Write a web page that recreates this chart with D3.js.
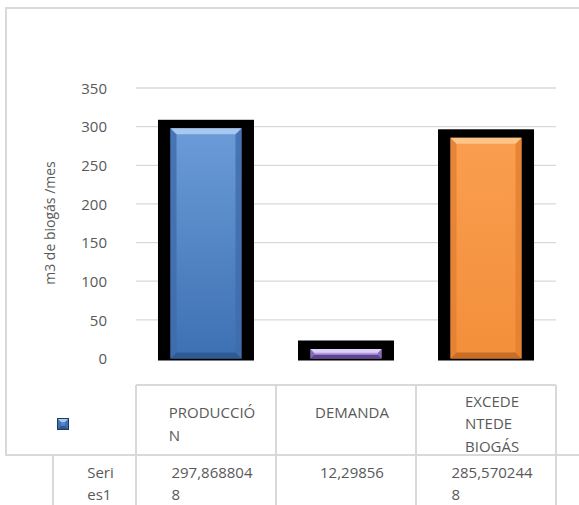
<!DOCTYPE html>
<html><head><meta charset="utf-8">
<script src="https://cdn.jsdelivr.net/npm/d3@7"></script>
<style>body{margin:0;background:#fff}svg{display:block}text{font-family:"Open Sans",sans-serif;fill:#595959}</style>
</head><body>
<svg id="c" width="579" height="505"></svg>
<script>
const categories = ["PRODUCCIÓN", "DEMANDA", "EXCEDENTE DE BIOGÁS"];
const headerLines = [["PRODUCCIÓ", "N"], ["DEMANDA"], ["EXCEDE", "NTEDE", "BIOGÁS"]];
const values = [297.8688048, 12.29856, 285.5702448];
const valueLines = [["297,868804", "8"], ["12,29856"], ["285,570244", "8"]];
const seriesName = ["Seri", "es1"];
const yTicks = [0, 50, 100, 150, 200, 250, 300, 350];
const yTitle = "m3 de biogás /mes";
const palettes = [
  {top:"#a8c8f0", bottom:"#2f5a94", side:"#3f6cab", face0:"#6c9cd8", face1:"#3d70b3"},
  {top:"#ddd0f7", bottom:"#5f4590", side:"#7d62ab", face0:"#c2a9ec", face1:"#a588d6"},
  {top:"#fdc587", bottom:"#c86d25", side:"#e27f31", face0:"#fa9e4f", face1:"#f28f3b"}
];

const svg = d3.select("#c");
const grid = "#d9d9d9";
const x = d3.scaleBand().domain(categories).range([136, 556]).paddingInner(0.3143).paddingOuter(0.157);
const y = d3.scaleLinear().domain([0, 350]).range([358.5, 88]);
const halfGap = (x.step() - x.bandwidth()) / 2;

// defs gradients
const defs = svg.append("defs");
palettes.forEach((p, i) => {
  const g = defs.append("linearGradient").attr("id", "g" + i).attr("x1", 0).attr("y1", 0).attr("x2", 0).attr("y2", 1);
  g.append("stop").attr("offset", 0).attr("stop-color", p.face0);
  g.append("stop").attr("offset", 1).attr("stop-color", p.face1);
});

// chart border
svg.append("rect").attr("x", 6).attr("y", 8).attr("width", 600).attr("height", 447)
  .attr("fill", "none").attr("stroke", grid).attr("stroke-width", 2);

// gridlines
svg.append("g").selectAll("line").data(yTicks.filter(t => t > 0)).join("line")
  .attr("x1", 136).attr("x2", 556).attr("y1", d => y(d)).attr("y2", d => y(d))
  .attr("stroke", grid).attr("stroke-width", 1.3);

// y axis labels
const yAxis = d3.axisLeft(y).tickValues(yTicks).tickSize(0).tickPadding(0);
const ya = svg.append("g").attr("transform", "translate(107,0)").call(yAxis);
ya.select(".domain").remove();
ya.selectAll("text").attr("font-size", 15).style("font-family", '"Open Sans",sans-serif').attr("fill", "#595959").attr("dy", "0.35em");

svg.append("text").attr("transform", "translate(50,223) rotate(-90)").attr("text-anchor", "middle")
  .attr("dy", "0.35em").attr("font-size", 14).text(yTitle);

function bevel(g, x0, x1, y0, y1, b, p, i) {
  g.append("rect").attr("x", x0).attr("y", y0).attr("width", x1 - x0).attr("height", y1 - y0).attr("fill", "url(#g" + i + ")");
  const poly = (pts, c, op) => g.append("polygon").attr("points", pts.map(q => q.join(",")).join(" ")).attr("fill", c).attr("opacity", op || 1);
  poly([[x0, y0], [x0 + b, y0 + b], [x0 + b, y1 - b], [x0, y1]], p.side, 0.8);
  poly([[x1, y0], [x1 - b, y0 + b], [x1 - b, y1 - b], [x1, y1]], p.side, 0.8);
  poly([[x0, y0], [x1, y0], [x1 - b, y0 + b], [x0 + b, y0 + b]], p.top);
  poly([[x0, y1], [x1, y1], [x1 - b, y1 - b], [x0 + b, y1 - b]], p.bottom);
}

// bars
const bars = svg.append("g");
categories.forEach((c, i) => {
  const v = values[i];
  const cx = x(c) + x.bandwidth() / 2;
  bars.append("rect").attr("x", x(c)).attr("y", y(v) - 8.5).attr("width", x.bandwidth())
    .attr("height", y(0) - y(v) + 10.5).attr("fill", "#000");
  const h = y(0) - y(v);
  bevel(bars, cx - 35.5, cx + 35.5, y(v), y(0), Math.min(6, h / 2.6), palettes[i], i);
});

// data table
const T = svg.append("g").attr("stroke", grid).attr("stroke-width", 2).attr("fill", "none");
T.append("line").attr("x1", 136).attr("x2", 556).attr("y1", 385).attr("y2", 385);
T.append("line").attr("x1", 6).attr("x2", 579).attr("y1", 455).attr("y2", 455);
const bounds = categories.map(c => x(c) - halfGap).concat([556]);
bounds.forEach(bx => T.append("line").attr("x1", bx).attr("x2", bx).attr("y1", 385).attr("y2", 505));
T.append("line").attr("x1", 53).attr("x2", 53).attr("y1", 455).attr("y2", 505);

// legend key
const k = svg.append("g");
k.append("rect").attr("x", 57).attr("y", 418).attr("width", 12).attr("height", 12).attr("fill", "#1f3a60");
bevel(k, 58, 68, 419, 429, 3, palettes[0], 0);

function block(lines, cx, y0, lh) {
  const g = svg.append("g");
  const t0 = g.append("text").attr("font-size", 15).attr("x", 0).attr("y", 0).text(lines[0]);
  const w = t0.node().getComputedTextLength();
  t0.remove();
  const left = cx - w / 2 + 6;
  lines.forEach((l, j) => g.append("text").attr("font-size", 15).attr("x", left).attr("y", y0 + j * lh)
    .attr("dy", "0.35em").text(l));
}
categories.forEach((c, i) => {
  const cx = x(c) + x.bandwidth() / 2;
  const n = Math.max(headerLines[i].length, 2);
  block(headerLines[i], cx, 424 - (n - 1) * 22.5 / 2, 22.5);
  block(valueLines[i], cx, 473, 22);
});
block(seriesName, 94.5, 473, 22);
</script>
</body></html>
